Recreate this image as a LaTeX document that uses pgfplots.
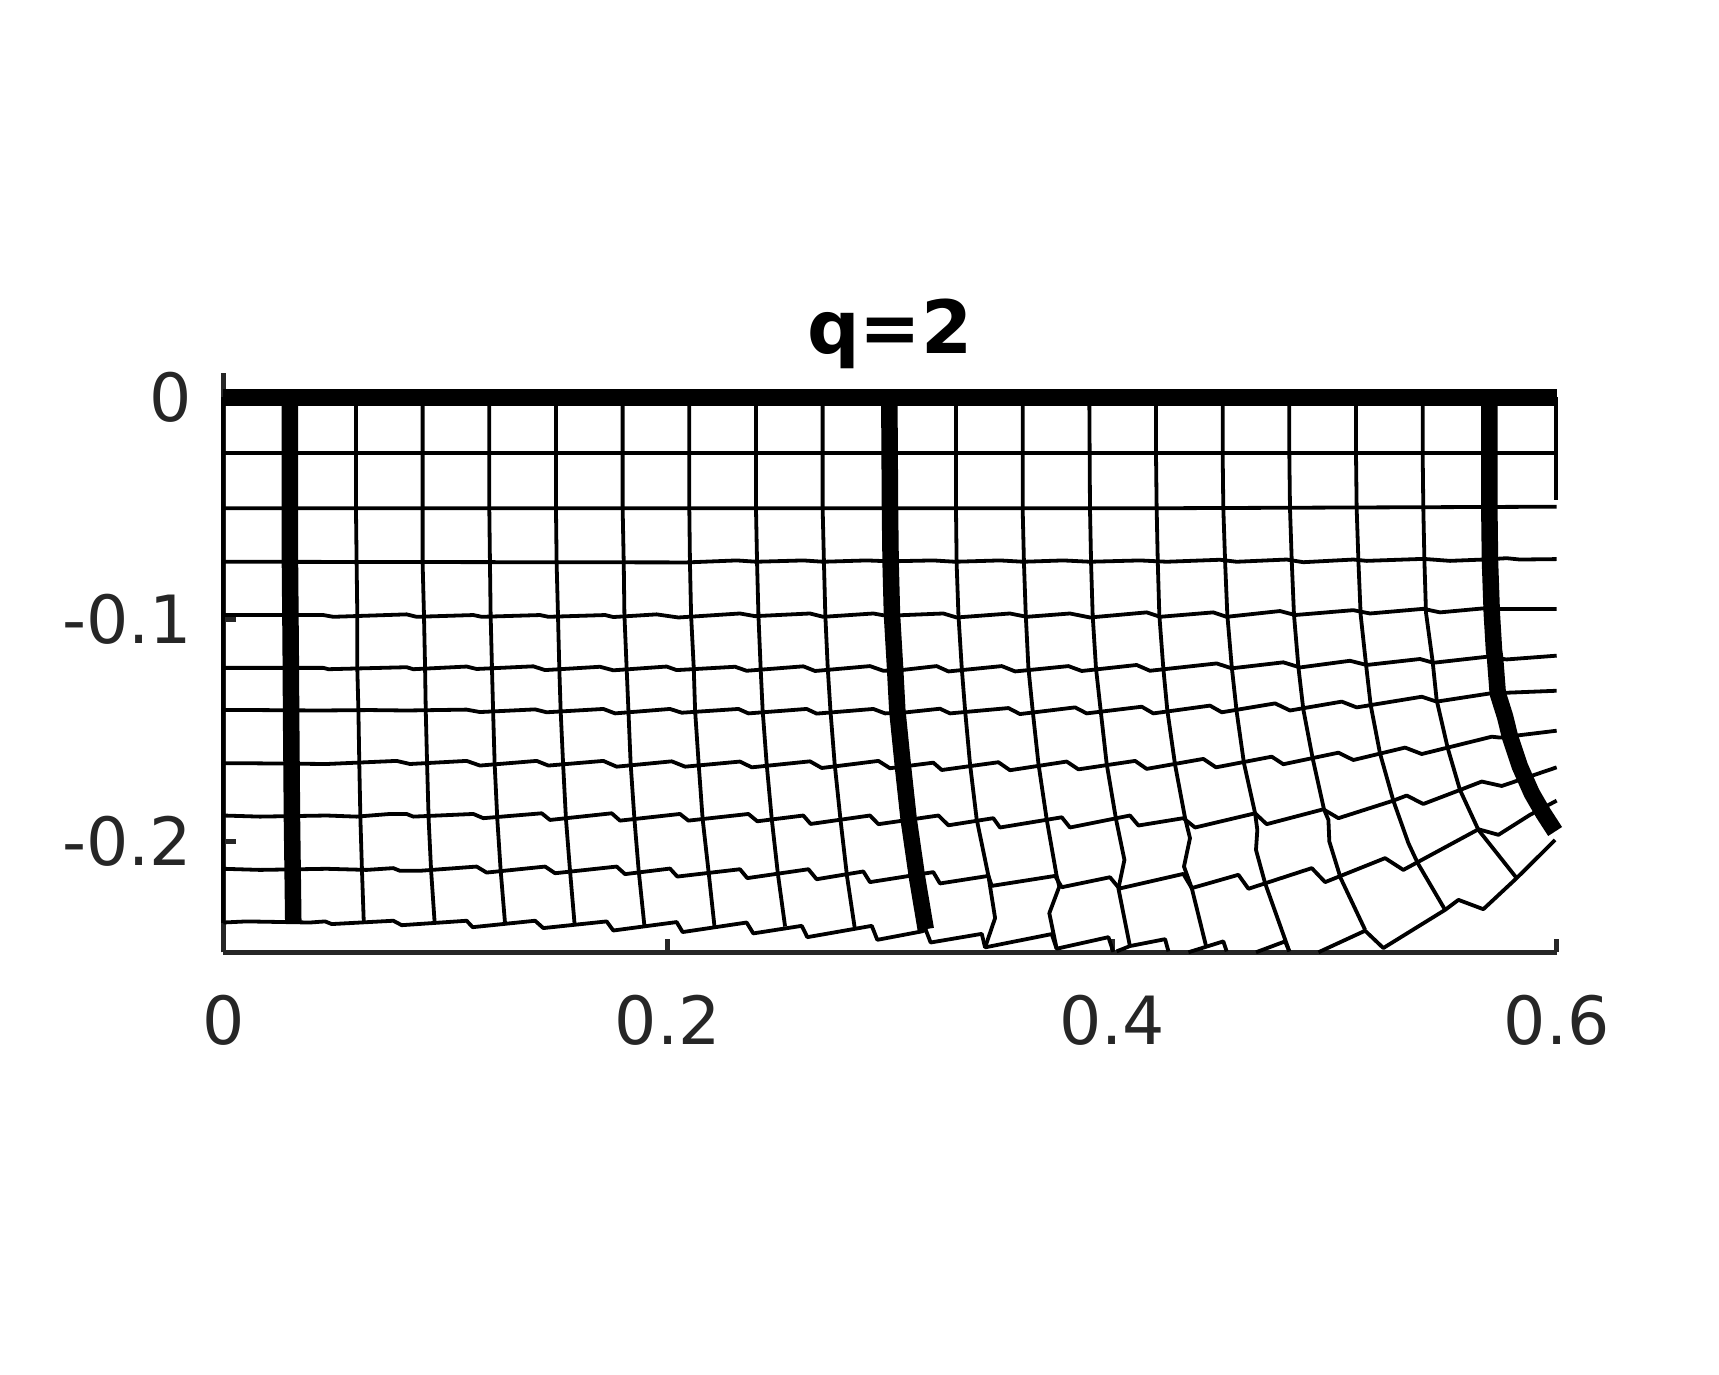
\documentclass[border=0pt]{standalone}
\usepackage{fontspec}
\setmainfont{DejaVu Sans}
\usepackage{pgfplots}
\pgfplotsset{compat=1.18}
\definecolor{axisgray}{gray}{0.15}
\pgfplotsset{
  m/.style={black, line width=0.76pt, line join=round},
  mt/.style={black, line width=3.3pt, line cap=butt},
}
\begin{document}
\begin{tikzpicture}
\useasboundingbox (-44.66pt,-84.54pt) rectangle (299.14pt,190.46pt);
\begin{axis}[
  scale only axis,
  width=266.68pt, height=115.8pt,
  xmin=0, xmax=0.6, ymin=-0.25, ymax=0.0108,
  clip=false,
  axis x line=bottom, axis y line=left,
  axis line style={-, axisgray, line width=1pt},
  xtick={0,0.2,0.4,0.6}, xticklabels={0,0.2,0.4,0.6},
  ytick={-0.2,-0.1,0}, yticklabels={-0.2,-0.1,0},
  tick style={axisgray, line width=1pt},
  tick align=inside,
  major tick length=2.6pt,
  tick label style={font=\fontsize{13.3}{16}\selectfont, text=axisgray},
  xticklabel style={yshift=-5.1pt},
  yticklabel style={xshift=-2.7pt},
  title={q=2},
  title style={font=\fontsize{14.7}{16}\selectfont\bfseries, text=black, at={(0.5,1)}, anchor=base, yshift=-2.1pt},
]
% horizontal mesh lines
\addplot[mt] coordinates {(0,0)(0.6,0)};
\addplot[m] coordinates {(0,-0.025)(0.6,-0.025)};
\addplot[m] coordinates {(0,-0.05)(0.42,-0.05)(0.6,-0.0493)};
\addplot[m] coordinates {(0,-0.0741)(0.2085,-0.0744)(0.231,-0.0735)(0.24,-0.0741)(0.261,-0.0735)(0.27,-0.0741)(0.2895,-0.0735)(0.3,-0.0739)(0.3195,-0.0735)(0.3293,-0.0741)(0.3495,-0.0735)(0.36,-0.0741)(0.378,-0.0735)(0.39,-0.0741)(0.4125,-0.0735)(0.4245,-0.0741)(0.4485,-0.0732)(0.456,-0.0741)(0.4785,-0.0731)(0.486,-0.0743)(0.5085,-0.0731)(0.5145,-0.0737)(0.54,-0.0728)(0.552,-0.0737)(0.567,-0.0731)(0.5775,-0.0725)(0.5835,-0.0731)(0.6,-0.0729)};
\addplot[m] coordinates {(0,-0.0981)(0.045,-0.0981)(0.0495,-0.0989)(0.0825,-0.0978)(0.087,-0.0989)(0.1125,-0.0981)(0.1163,-0.0989)(0.1425,-0.0981)(0.1463,-0.0989)(0.1718,-0.0981)(0.1755,-0.099)(0.195,-0.0978)(0.2048,-0.0992)(0.2325,-0.0974)(0.2393,-0.0986)(0.264,-0.0974)(0.27,-0.0989)(0.2925,-0.0974)(0.297,-0.0982)(0.3045,-0.0982)(0.324,-0.0974)(0.33,-0.0992)(0.354,-0.0974)(0.3615,-0.0989)(0.381,-0.0974)(0.39,-0.0992)(0.4155,-0.0969)(0.4215,-0.0989)(0.4455,-0.0969)(0.4515,-0.0989)(0.4755,-0.0963)(0.4823,-0.0981)(0.5085,-0.0959)(0.516,-0.0974)(0.54,-0.0953)(0.5475,-0.0969)(0.567,-0.0951)(0.5753,-0.0954)(0.6,-0.0954)};
\addplot[m] coordinates {(0,-0.1219)(0.045,-0.1219)(0.0473,-0.1225)(0.0825,-0.1216)(0.0855,-0.1225)(0.1095,-0.1213)(0.114,-0.1224)(0.1395,-0.1212)(0.1448,-0.1229)(0.1695,-0.1214)(0.1755,-0.123)(0.1995,-0.1213)(0.204,-0.1229)(0.2303,-0.1214)(0.2355,-0.1232)(0.261,-0.1212)(0.2663,-0.1233)(0.291,-0.1211)(0.297,-0.1232)(0.306,-0.1228)(0.321,-0.1211)(0.3263,-0.1235)(0.3503,-0.1211)(0.3563,-0.1235)(0.3803,-0.1211)(0.3863,-0.1233)(0.411,-0.1206)(0.417,-0.1232)(0.447,-0.1199)(0.4538,-0.1221)(0.477,-0.1194)(0.4845,-0.1217)(0.507,-0.1187)(0.5145,-0.1206)(0.5385,-0.1179)(0.5445,-0.1196)(0.5685,-0.1169)(0.5775,-0.1181)(0.6,-0.1164)};
\addplot[m] coordinates {(0,-0.1409)(0.015,-0.1409)(0.0435,-0.1411)(0.066,-0.1409)(0.0825,-0.1411)(0.1095,-0.1407)(0.1155,-0.1418)(0.1403,-0.1406)(0.1455,-0.1419)(0.171,-0.1404)(0.1763,-0.1424)(0.201,-0.1404)(0.2063,-0.1421)(0.2318,-0.1404)(0.2363,-0.1424)(0.2625,-0.1404)(0.267,-0.1425)(0.2925,-0.1404)(0.2978,-0.1424)(0.3075,-0.1419)(0.3225,-0.1403)(0.327,-0.1424)(0.3533,-0.14)(0.3585,-0.1427)(0.3833,-0.1397)(0.3885,-0.1424)(0.4133,-0.1394)(0.4185,-0.1424)(0.444,-0.1389)(0.4493,-0.1419)(0.4733,-0.1379)(0.48,-0.1411)(0.5033,-0.1371)(0.51,-0.1397)(0.5393,-0.1349)(0.546,-0.1371)(0.57,-0.1334)(0.6,-0.1322)};
\addplot[m] coordinates {(0,-0.1649)(0.015,-0.1649)(0.0465,-0.1652)(0.078,-0.1638)(0.084,-0.1652)(0.1095,-0.1638)(0.1155,-0.1659)(0.141,-0.1638)(0.1463,-0.1659)(0.171,-0.1638)(0.177,-0.1664)(0.2018,-0.164)(0.2078,-0.1664)(0.2325,-0.1641)(0.2378,-0.1667)(0.264,-0.164)(0.2693,-0.167)(0.2948,-0.1638)(0.3,-0.1671)(0.3195,-0.1646)(0.3233,-0.1679)(0.3488,-0.1644)(0.354,-0.168)(0.3795,-0.1641)(0.3848,-0.1676)(0.4103,-0.1638)(0.4155,-0.1674)(0.441,-0.1629)(0.4467,-0.1667)(0.4718,-0.1619)(0.477,-0.1653)(0.5018,-0.1601)(0.5085,-0.1634)(0.5318,-0.1578)(0.5393,-0.1607)(0.5708,-0.1529)(0.5745,-0.1533)(0.6,-0.1502)};
\addplot[m] coordinates {(0,-0.1884)(0.0165,-0.1889)(0.0465,-0.1884)(0.06,-0.1889)(0.075,-0.1877)(0.0825,-0.1877)(0.0855,-0.1889)(0.1125,-0.1877)(0.117,-0.1896)(0.1433,-0.1874)(0.147,-0.1904)(0.1748,-0.1874)(0.1785,-0.1907)(0.2055,-0.1877)(0.2093,-0.1907)(0.2363,-0.1877)(0.2403,-0.191)(0.261,-0.1884)(0.2643,-0.1922)(0.291,-0.1884)(0.2948,-0.1923)(0.3218,-0.1884)(0.3263,-0.1928)(0.3465,-0.1896)(0.3495,-0.1938)(0.3773,-0.1892)(0.381,-0.1938)(0.408,-0.1884)(0.4118,-0.1929)(0.432,-0.1896)(0.4373,-0.1938)(0.4643,-0.1874)(0.4695,-0.1923)(0.495,-0.1856)(0.5018,-0.1896)(0.5265,-0.1817)(0.5325,-0.1794)(0.54,-0.1832)(0.5565,-0.1769)(0.5663,-0.1731)(0.5753,-0.1751)(0.6,-0.1667)};
\addplot[m] coordinates {(0,-0.2124)(0.0165,-0.2129)(0.0465,-0.2124)(0.0645,-0.2129)(0.0765,-0.2121)(0.0795,-0.2133)(0.0885,-0.2133)(0.114,-0.2114)(0.1185,-0.2141)(0.1448,-0.2114)(0.1493,-0.2144)(0.177,-0.2114)(0.1808,-0.2148)(0.201,-0.2123)(0.2043,-0.2159)(0.2325,-0.2126)(0.2358,-0.2166)(0.2633,-0.2126)(0.267,-0.2171)(0.288,-0.2136)(0.291,-0.2184)(0.3195,-0.2139)(0.3225,-0.219)(0.3443,-0.2156)(0.3458,-0.2201)(0.3743,-0.2156)(0.3773,-0.2207)(0.399,-0.2162)(0.4032,-0.2213)(0.432,-0.2147)(0.4358,-0.2211)(0.4568,-0.2151)(0.4613,-0.2214)(0.4898,-0.2121)(0.4958,-0.2184)(0.5228,-0.2076)(0.531,-0.2129)(0.5648,-0.1946)(0.5738,-0.1971)(0.588,-0.1881)(0.6,-0.1817)};
\addplot[m] coordinates {(0,-0.2366)(0.0105,-0.2361)(0.039,-0.2366)(0.0458,-0.2361)(0.0488,-0.2373)(0.0765,-0.2358)(0.0803,-0.2378)(0.1095,-0.2358)(0.1122,-0.2387)(0.1403,-0.2358)(0.144,-0.2391)(0.1725,-0.2361)(0.1755,-0.2402)(0.204,-0.2364)(0.2067,-0.2409)(0.2355,-0.2366)(0.2385,-0.2415)(0.2603,-0.2381)(0.2628,-0.2432)(0.2918,-0.2381)(0.2943,-0.2444)(0.3143,-0.2406)(0.3161,-0.2399)(0.3183,-0.2456)(0.3413,-0.2417)(0.3428,-0.2478)(0.3728,-0.2418)(0.375,-0.2484)(0.3983,-0.2432)(0.4005,-0.2498)};
\addplot[m] coordinates {(0.402,-0.2496)(0.408,-0.2472)(0.4238,-0.2441)(0.4253,-0.2496)};
\addplot[m] coordinates {(0.4343,-0.25)(0.45,-0.2451)(0.4515,-0.2496)};
\addplot[m] coordinates {(0.4647,-0.25)(0.4778,-0.2451)(0.4797,-0.2496)};
\addplot[m] coordinates {(0.4928,-0.25)(0.5138,-0.2403)(0.522,-0.2481)(0.5498,-0.2309)(0.5558,-0.2264)(0.567,-0.2306)(0.582,-0.2166)(0.5993,-0.1994)};
% vertical mesh lines
\addplot[m] coordinates {(0,0)(0,-0.2366)};
\addplot[mt] coordinates {(0.03,0)(0.03,-0.075)(0.0302,-0.098)(0.0304,-0.122)(0.0305,-0.141)(0.0307,-0.165)(0.0309,-0.19)(0.0312,-0.213)(0.0315,-0.2366)};
\addplot[m] coordinates {(0.0597,0)(0.0597,-0.05)(0.06,-0.075)(0.0603,-0.098)(0.0603,-0.122)(0.0608,-0.141)(0.0612,-0.165)(0.0617,-0.19)(0.0624,-0.213)(0.0632,-0.2361)};
\addplot[m] coordinates {(0.0897,0)(0.0897,-0.075)(0.0903,-0.098)(0.0908,-0.122)(0.0911,-0.141)(0.0917,-0.165)(0.0924,-0.19)(0.0935,-0.213)(0.0951,-0.2366)};
\addplot[m] coordinates {(0.1197,0)(0.1197,-0.05)(0.12,-0.075)(0.1203,-0.098)(0.1209,-0.122)(0.1214,-0.141)(0.1221,-0.165)(0.1233,-0.19)(0.1248,-0.213)(0.1268,-0.2372)};
\addplot[m] coordinates {(0.1497,0)(0.1497,-0.05)(0.15,-0.075)(0.1506,-0.098)(0.1512,-0.122)(0.1518,-0.141)(0.1529,-0.165)(0.1542,-0.19)(0.156,-0.213)(0.1581,-0.2376)};
\addplot[m] coordinates {(0.1797,0)(0.1797,-0.05)(0.1802,-0.075)(0.1805,-0.098)(0.1815,-0.122)(0.1823,-0.141)(0.1833,-0.165)(0.185,-0.19)(0.1869,-0.213)(0.1895,-0.2381)};
\addplot[m] coordinates {(0.2097,0)(0.2097,-0.05)(0.21,-0.075)(0.2105,-0.098)(0.2117,-0.122)(0.2123,-0.141)(0.2139,-0.165)(0.2157,-0.19)(0.2184,-0.214)(0.221,-0.2381)};
\addplot[m] coordinates {(0.2397,0)(0.2397,-0.05)(0.2402,-0.075)(0.2408,-0.098)(0.2418,-0.122)(0.2427,-0.141)(0.2445,-0.165)(0.2468,-0.19)(0.2496,-0.215)(0.2528,-0.2384)};
\addplot[m] coordinates {(0.2697,0)(0.2697,-0.05)(0.2703,-0.075)(0.2709,-0.098)(0.272,-0.122)(0.2732,-0.141)(0.2751,-0.165)(0.2777,-0.19)(0.2807,-0.216)(0.2841,-0.2388)};
\addplot[mt] coordinates {(0.2997,0)(0.3,-0.05)(0.3003,-0.075)(0.3009,-0.098)(0.3023,-0.122)(0.3033,-0.141)(0.3057,-0.165)(0.3084,-0.19)(0.3123,-0.217)(0.3161,-0.2396)};
\addplot[m] coordinates {(0.3297,0)(0.3297,-0.05)(0.33,-0.075)(0.3308,-0.098)(0.3323,-0.122)(0.3338,-0.141)(0.336,-0.165)(0.339,-0.19)(0.3443,-0.2156)(0.3473,-0.2346)(0.3428,-0.2478)};
\addplot[m] coordinates {(0.3597,0)(0.3597,-0.05)(0.3603,-0.075)(0.3611,-0.098)(0.3623,-0.122)(0.3642,-0.141)(0.3668,-0.165)(0.3705,-0.19)(0.375,-0.2156)(0.3762,-0.2204)(0.3717,-0.2324)(0.375,-0.2484)};
\addplot[m] coordinates {(0.3897,0)(0.39,-0.05)(0.3905,-0.075)(0.3912,-0.098)(0.3927,-0.122)(0.3948,-0.141)(0.3975,-0.165)(0.4017,-0.19)(0.4055,-0.2084)(0.4028,-0.2213)(0.408,-0.2474)};
\addplot[m] coordinates {(0.4197,0)(0.4197,-0.025)(0.42,-0.05)(0.4205,-0.074)(0.4212,-0.098)(0.423,-0.1221)(0.4248,-0.141)(0.4283,-0.1656)(0.4328,-0.1896)(0.435,-0.1986)(0.4323,-0.2114)(0.4358,-0.2211)(0.4422,-0.2471)};
\addplot[m] coordinates {(0.4497,0)(0.4497,-0.025)(0.45,-0.05)(0.4508,-0.074)(0.4518,-0.098)(0.4538,-0.1215)(0.456,-0.1416)(0.4593,-0.1649)(0.4643,-0.1874)(0.4653,-0.1949)(0.4647,-0.2039)(0.4688,-0.2189)(0.4797,-0.2496)};
\addplot[m] coordinates {(0.4797,0)(0.4797,-0.025)(0.48,-0.05)(0.4808,-0.074)(0.4818,-0.098)(0.4838,-0.1217)(0.486,-0.1406)(0.4902,-0.1626)(0.4953,-0.1856)(0.4973,-0.1904)(0.4977,-0.2001)(0.5028,-0.2166)(0.5138,-0.2399)};
\addplot[m] coordinates {(0.5097,0)(0.5097,-0.025)(0.51,-0.05)(0.5108,-0.074)(0.5118,-0.098)(0.5142,-0.1202)(0.5163,-0.1386)(0.5205,-0.1604)(0.5265,-0.1817)(0.5333,-0.2009)(0.5375,-0.2099)(0.5498,-0.2309)};
\addplot[m] coordinates {(0.5397,0)(0.5397,-0.025)(0.54,-0.05)(0.5405,-0.074)(0.5412,-0.097)(0.5442,-0.1191)(0.546,-0.1364)(0.551,-0.1581)(0.5565,-0.1769)(0.5648,-0.1949)(0.582,-0.2166)};
\addplot[mt] coordinates {(0.5697,0)(0.5697,-0.05)(0.57,-0.074)(0.5708,-0.097)(0.5718,-0.1139)(0.5723,-0.1176)(0.5735,-0.1334)(0.5768,-0.1439)(0.579,-0.1529)(0.5835,-0.1664)(0.5888,-0.1784)(0.594,-0.1874)(0.5993,-0.1956)};
\addplot[m] coordinates {(0.5997,0)(0.5997,-0.0464)};
\end{axis}
\end{tikzpicture}
\end{document}
